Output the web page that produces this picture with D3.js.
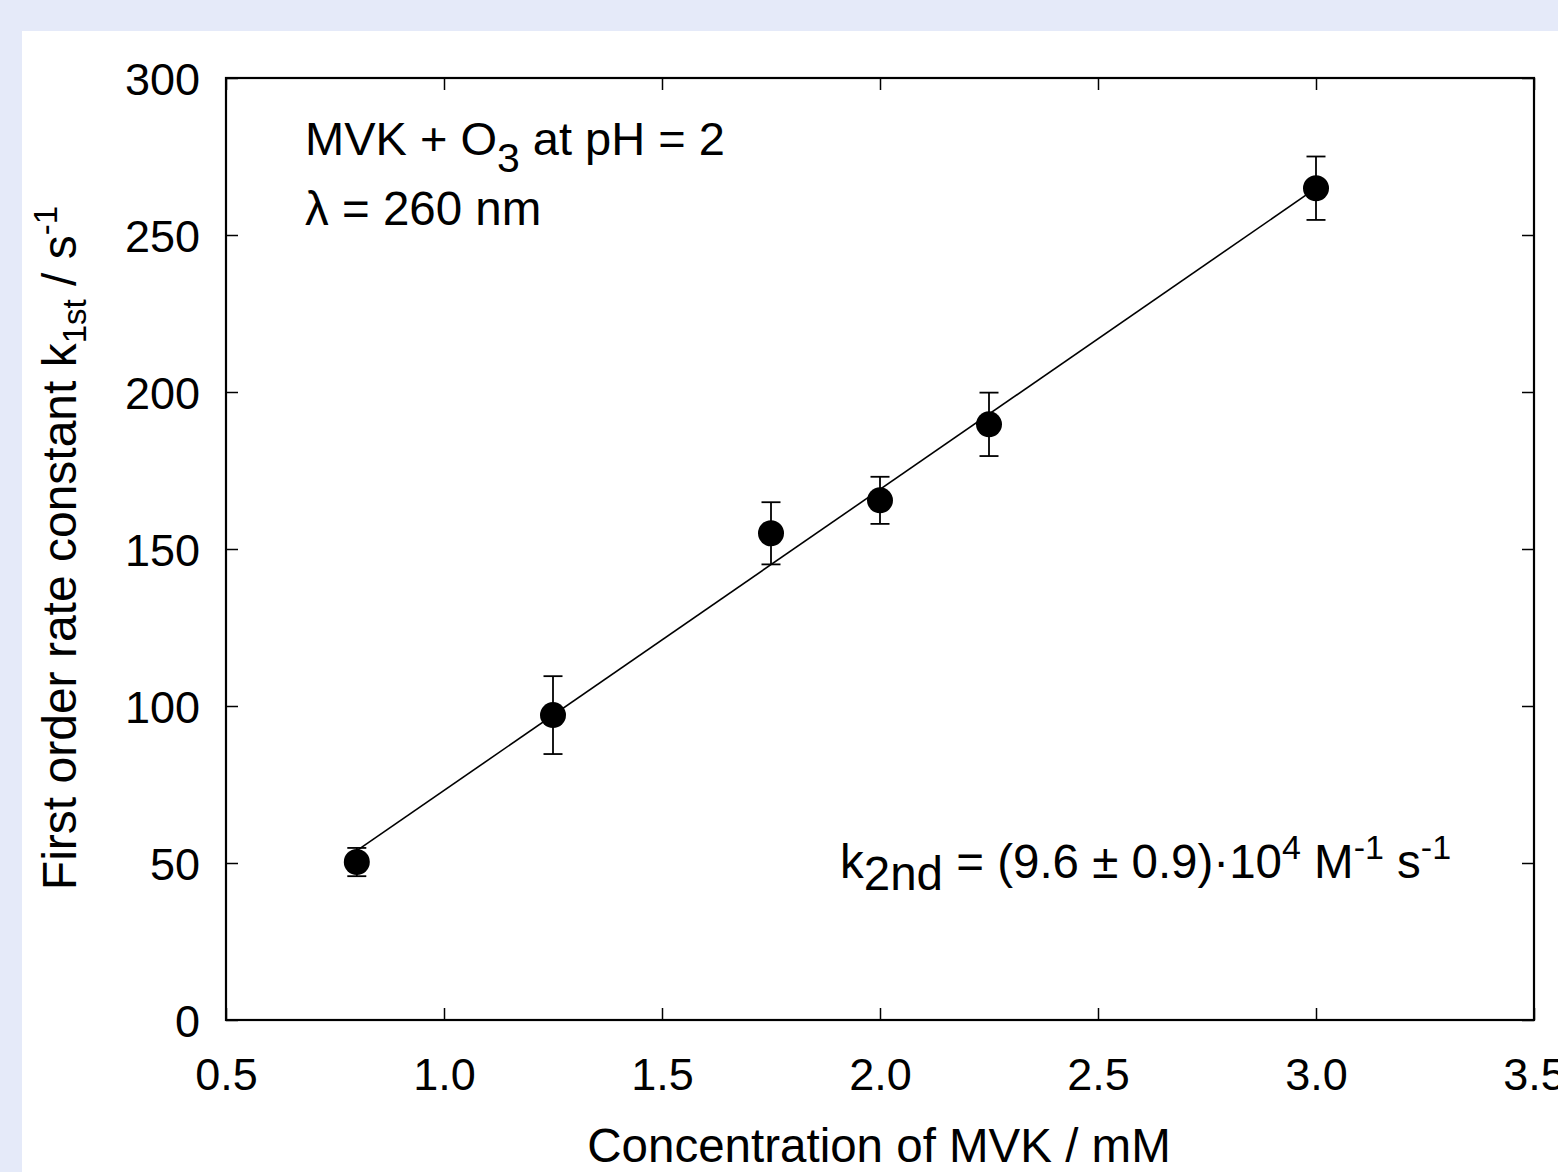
<!DOCTYPE html>
<html>
<head>
<meta charset="utf-8">
<script src="https://cdn.jsdelivr.net/npm/d3@7"></script>
<style>
  html, body { margin: 0; padding: 0; background: #e5eaf9; }
  svg { display: block; }
  text { font-family: "Liberation Sans", Arial, Helvetica, sans-serif; fill: #000; }
</style>
</head>
<body>
<svg id="chart" width="1558" height="1172"></svg>
<script>
// ---- data ----
const concentration = [0.8, 1.25, 1.75, 2.0, 2.25, 3.0];      // mM
const k1st = [50.3, 97.1, 155.0, 165.5, 189.7, 264.9];          // s^-1
const k1stError = [4.5, 12.4, 9.9, 7.5, 10.1, 10.1];            // s^-1
const fitSlope = [95.9];        // s^-1 per mM
const fitIntercept = [-22.8];   // s^-1
const fitRange = [0.8, 3.0];
const xTickValues = [0.5, 1.0, 1.5, 2.0, 2.5, 3.0, 3.5];
const xTickLabels = ["0.5", "1.0", "1.5", "2.0", "2.5", "3.0", "3.5"];
const yTickValues = [0, 50, 100, 150, 200, 250, 300];
const yTickLabels = ["0", "50", "100", "150", "200", "250", "300"];

const W = 1558, H = 1172;
const svg = d3.select("#chart");

// background panels
svg.append("rect").attr("x", 0).attr("y", 0).attr("width", W).attr("height", H).attr("fill", "#e5eaf9");
svg.append("rect").attr("x", 22).attr("y", 31).attr("width", W - 22).attr("height", H - 31).attr("fill", "#ffffff");

const plot = { left: 226, right: 1534, top: 78, bottom: 1020 };
const x = d3.scaleLinear().domain([0.5, 3.5]).range([plot.left, plot.right]);
const y = d3.scaleLinear().domain([0, 300]).range([plot.bottom, plot.top]);

const tickLen = 12;
const fs = 45;

// axes (inward ticks on all four sides)
const axB = d3.axisBottom(x).tickValues(xTickValues).tickSizeInner(-tickLen).tickSizeOuter(0)
  .tickFormat((d, i) => xTickLabels[i]);
const axT = d3.axisTop(x).tickValues(xTickValues).tickSizeInner(-tickLen).tickSizeOuter(0).tickFormat("");
const axL = d3.axisLeft(y).tickValues(yTickValues).tickSizeInner(-tickLen).tickSizeOuter(0)
  .tickFormat((d, i) => yTickLabels[i]);
const axR = d3.axisRight(y).tickValues(yTickValues).tickSizeInner(-tickLen).tickSizeOuter(0).tickFormat("");

function styleAxis(g) {
  g.select(".domain").remove();
  g.selectAll(".tick line").attr("stroke", "#000").attr("stroke-width", 1.5);
  g.selectAll(".tick text").attr("font-size", fs).attr("font-family", "Liberation Sans, Arial, sans-serif").attr("fill", "#000");
}
svg.append("g").attr("transform", `translate(0,${plot.bottom})`).call(axB).call(styleAxis)
  .selectAll(".tick text").attr("dy", null).attr("y", 70);
svg.append("g").attr("transform", `translate(0,${plot.top})`).call(axT).call(styleAxis);
svg.append("g").attr("transform", `translate(${plot.left},0)`).call(axL).call(styleAxis)
  .selectAll(".tick text").attr("dy", "0.36em").attr("x", -26);
svg.append("g").attr("transform", `translate(${plot.right},0)`).call(axR).call(styleAxis);

// frame
svg.append("rect").attr("x", plot.left).attr("y", plot.top)
  .attr("width", plot.right - plot.left).attr("height", plot.bottom - plot.top)
  .attr("fill", "none").attr("stroke", "#000").attr("stroke-width", 2.2);

// fit line
svg.append("line")
  .attr("x1", x(fitRange[0])).attr("y1", y(fitIntercept[0] + fitSlope[0] * fitRange[0]))
  .attr("x2", x(fitRange[1])).attr("y2", y(fitIntercept[0] + fitSlope[0] * fitRange[1]))
  .attr("stroke", "#000").attr("stroke-width", 1.6);

// error bars
const data = concentration.map((c, i) => ({ c, k: k1st[i], e: k1stError[i] }));
const capW = 9.5;
const eb = svg.append("g").attr("stroke", "#000").attr("stroke-width", 1.8);
data.forEach(d => {
  eb.append("line").attr("x1", x(d.c)).attr("x2", x(d.c)).attr("y1", y(d.k - d.e)).attr("y2", y(d.k + d.e));
  eb.append("line").attr("x1", x(d.c) - capW).attr("x2", x(d.c) + capW).attr("y1", y(d.k - d.e)).attr("y2", y(d.k - d.e));
  eb.append("line").attr("x1", x(d.c) - capW).attr("x2", x(d.c) + capW).attr("y1", y(d.k + d.e)).attr("y2", y(d.k + d.e));
});

// markers
svg.append("g").selectAll("circle").data(data).join("circle")
  .attr("cx", d => x(d.c)).attr("cy", d => y(d.k)).attr("r", 13).attr("fill", "#000");

// axis titles
svg.append("text").attr("x", 879).attr("y", 1162)
  .attr("text-anchor", "middle").attr("font-size", 47.5).text("Concentration of MVK / mM");

const yt = svg.append("text").attr("transform", `translate(76,548) rotate(-90)`)
  .attr("text-anchor", "middle").attr("font-size", 48);
yt.append("tspan").text("First order rate constant k");
yt.append("tspan").attr("font-size", 33).attr("dy", 10).text("1st");
yt.append("tspan").attr("dy", -10).text(" / s");
yt.append("tspan").attr("font-size", 33).attr("dy", -19).text("-1");

// annotations
const a1 = svg.append("text").attr("x", 305).attr("y", 155).attr("font-size", 47);
a1.append("tspan").text("MVK + O");
a1.append("tspan").attr("font-size", 41).attr("dy", 17).text("3");
a1.append("tspan").attr("dy", -17).text(" at pH = 2");

svg.append("text").attr("x", 305).attr("y", 225).attr("font-size", 47.5).text("λ = 260 nm");

const a3 = svg.append("text").attr("x", 840).attr("y", 878).attr("font-size", 47.5);
a3.append("tspan").text("k");
a3.append("tspan").attr("dy", 12).text("2nd");
a3.append("tspan").attr("dy", -12).text(" = (9.6 ± 0.9)·10");
a3.append("tspan").attr("font-size", 34).attr("dy", -19).text("4");
a3.append("tspan").attr("dy", 19).text(" M");
a3.append("tspan").attr("font-size", 34).attr("dy", -19).text("-1");
a3.append("tspan").attr("dy", 19).text(" s");
a3.append("tspan").attr("font-size", 34).attr("dy", -19).text("-1");
</script>
</body>
</html>
